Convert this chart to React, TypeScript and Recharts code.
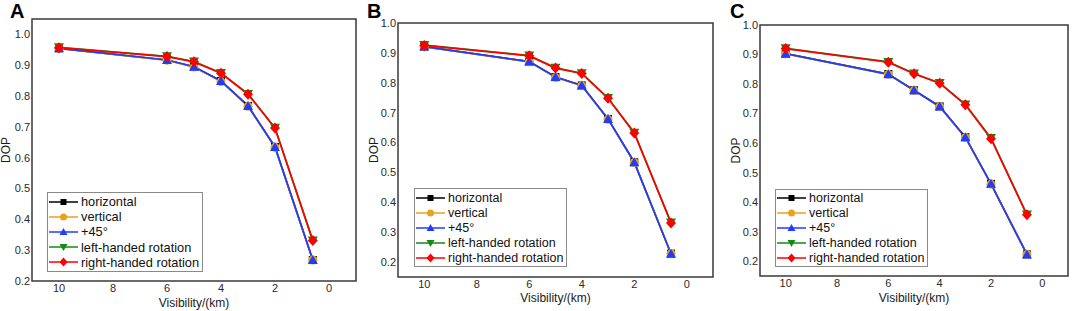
import React from 'react';
import { LineChart, Line, XAxis, YAxis, ReferenceArea, Legend, Label } from 'recharts';

// visibility (km) at which DOP was measured
const visibility = [10, 6, 5, 4, 3, 2, 0.6];
const xTicks = [0, 2, 4, 6, 8, 10];
const yTicks = [0.2, 0.3, 0.4, 0.5, 0.6, 0.7, 0.8, 0.9, 1.0];

// panel A
const horizontalA = [0.955, 0.917, 0.895, 0.849, 0.768, 0.635, 0.268];
const verticalA = [0.955, 0.916, 0.894, 0.847, 0.767, 0.634, 0.268];
const plus45A = [0.955, 0.917, 0.895, 0.849, 0.768, 0.635, 0.268];
const leftA = [0.958, 0.929, 0.912, 0.875, 0.807, 0.697, 0.331];
const rightA = [0.957, 0.928, 0.911, 0.874, 0.806, 0.696, 0.331];

// panel B
const horizontalB = [0.921, 0.871, 0.819, 0.791, 0.679, 0.534, 0.228];
const verticalB = [0.920, 0.870, 0.818, 0.790, 0.678, 0.533, 0.228];
const plus45B = [0.921, 0.871, 0.819, 0.791, 0.679, 0.534, 0.228];
const leftB = [0.926, 0.891, 0.850, 0.832, 0.749, 0.633, 0.332];
const rightB = [0.925, 0.890, 0.849, 0.831, 0.748, 0.632, 0.331];

// panel C
const horizontalC = [0.903, 0.834, 0.779, 0.724, 0.620, 0.462, 0.223];
const verticalC = [0.902, 0.833, 0.778, 0.723, 0.619, 0.461, 0.223];
const plus45C = [0.903, 0.833, 0.779, 0.724, 0.620, 0.462, 0.223];
const leftC = [0.921, 0.875, 0.836, 0.804, 0.731, 0.617, 0.358];
const rightC = [0.920, 0.874, 0.835, 0.803, 0.730, 0.615, 0.357];

const SERIES = [
  { key: 'horizontal', name: 'horizontal', color: '#000000', shape: 'square' },
  { key: 'vertical', name: 'vertical', color: '#e8a21c', shape: 'circle' },
  { key: 'plus45', name: '+45°', color: '#1f3cff', shape: 'triangle' },
  { key: 'left', name: 'left-handed rotation', color: '#138a13', shape: 'triangleDown' },
  { key: 'right', name: 'right-handed rotation', color: '#ff0000', shape: 'diamond' },
];

const FONT = '"Liberation Sans", Arial, sans-serif';

const makeRows = (h: number[], v: number[], p: number[], l: number[], r: number[]) =>
  visibility.map((x, i) => ({ x, horizontal: h[i], vertical: v[i], plus45: p[i], left: l[i], right: r[i] }));

const Marker = ({ cx, cy, shape, color, s = 8 }: any) => {
  const h = s / 2;
  switch (shape) {
    case 'square':
      return <rect x={cx - h + 1} y={cy - h + 1} width={s - 2} height={s - 2} fill={color} />;
    case 'circle':
      return <circle cx={cx} cy={cy} r={h - 0.5} fill={color} />;
    case 'triangle':
      return <polygon points={`${cx},${cy - h} ${cx + h},${cy + h - 1} ${cx - h},${cy + h - 1}`} fill={color} />;
    case 'triangleDown':
      return <polygon points={`${cx},${cy + h} ${cx + h},${cy - h + 1} ${cx - h},${cy - h + 1}`} fill={color} />;
    default:
      return <polygon points={`${cx},${cy - h - 0.5} ${cx + h},${cy} ${cx},${cy + h + 0.5} ${cx - h},${cy}`} fill={color} />;
  }
};

const LegendBox = ({ rowH, fontSize }: any) => (
  <div style={{ border: '1px solid #8a8a8a', background: '#fff', padding: '1px 3px 1px 0', fontFamily: FONT, fontSize, color: '#111' }}>
    {SERIES.map((s) => (
      <div key={s.key} style={{ display: 'flex', alignItems: 'center', height: rowH }}>
        <svg width={31} height={12} style={{ display: 'block' }}>
          <line x1={1} x2={30} y1={6} y2={6} stroke={s.color} strokeWidth={1.5} />
          <Marker cx={15.5} cy={6} shape={s.shape} color={s.color} s={8} />
        </svg>
        <span style={{ marginLeft: 2, whiteSpace: 'nowrap' }}>{s.name}</span>
      </div>
    ))}
  </div>
);

const Panel = ({ letter, data, left, width, yAxisW, top, xAxisH, yMax, yMin, legendLeft, legendTop, dopOffset, xLabelOffset, letterLeft, rowH, fontSize }: any) => (
  <div style={{ position: 'absolute', left, top: 0, width, height: 311 }}>
    <div style={{ position: 'absolute', left: letterLeft, top: 4, fontFamily: FONT, fontWeight: 'bold', fontSize: 20, lineHeight: '14px', color: '#000' }}>{letter}</div>
    <LineChart width={width} height={311} data={data} margin={{ top, right: 4, bottom: 0, left: 0 }}>
      <XAxis
        dataKey="x"
        type="number"
        domain={[-1, 11]}
        reversed
        ticks={xTicks}
        height={xAxisH}
        axisLine={false}
        tickLine={false}
        tickSize={0}
        tickMargin={3}
        tick={{ fontSize: 11, fill: '#2a2a2a', fontFamily: FONT }}
      >
        <Label value="Visibility/(km)" position="insideBottom" offset={xLabelOffset} style={{ fontSize: 12, fill: '#1a1a1a', fontFamily: FONT }} />
      </XAxis>
      <YAxis
        type="number"
        domain={[yMin, yMax]}
        ticks={yTicks}
        width={yAxisW}
        axisLine={false}
        tickLine={false}
        tickSize={0}
        tickMargin={2}
        tickFormatter={(v: number) => v.toFixed(1)}
        tick={{ fontSize: 11, fill: '#2a2a2a', fontFamily: FONT }}
      >
        <Label value="DOP" angle={-90} position="insideLeft" offset={dopOffset} style={{ fontSize: 12, fill: '#1a1a1a', fontFamily: FONT, textAnchor: 'middle' }} />
      </YAxis>
      <ReferenceArea x1={-1} x2={11} y1={yMin} y2={yMax} fill="none" stroke="#3a3a3a" strokeWidth={1.5} />
      {SERIES.map((s) => (
        <Line
          key={s.key}
          dataKey={s.key}
          name={s.name}
          stroke={s.color}
          strokeWidth={1.7}
          isAnimationActive={false}
          dot={(p: any) => <Marker key={`${s.key}-${p.index}`} cx={p.cx} cy={p.cy} shape={s.shape} color={s.color} s={10} />}
          activeDot={false}
        />
      ))}
      <Legend
        layout="vertical"
        align="center"
        verticalAlign="middle"
        wrapperStyle={{ left: legendLeft, top: legendTop, width: 'auto', height: 'auto' }}
        content={() => <LegendBox rowH={rowH} fontSize={fontSize} />}
      />
    </LineChart>
  </div>
);

export default function App() {
  return (
    <div style={{ position: 'absolute', left: 0, top: 0, width: 1072, height: 311, background: '#fff' }}>
      <Panel letter="A" data={makeRows(horizontalA, verticalA, plus45A, leftA, rightA)} left={0} width={360} yAxisW={32} top={19} xAxisH={30}
        yMin={0.2} yMax={1.05} legendLeft={47} legendTop={192} dopOffset={6} xLabelOffset={4} letterLeft={10} rowH={15.2} fontSize={12.8} />
      <Panel letter="B" data={makeRows(horizontalB, verticalB, plus45B, leftB, rightB)} left={360} width={357} yAxisW={38} top={23} xAxisH={34}
        yMin={0.15} yMax={1.0} legendLeft={54} legendTop={188} dopOffset={14} xLabelOffset={9} letterLeft={7} rowH={15} fontSize={12.5} />
      <Panel letter="C" data={makeRows(horizontalC, verticalC, plus45C, leftC, rightC)} left={716} width={356} yAxisW={44} top={25} xAxisH={35}
        yMin={0.15} yMax={1.0} legendLeft={59} legendTop={189} dopOffset={20} xLabelOffset={9} letterLeft={14} rowH={14.8} fontSize={12.5} />
    </div>
  );
}
